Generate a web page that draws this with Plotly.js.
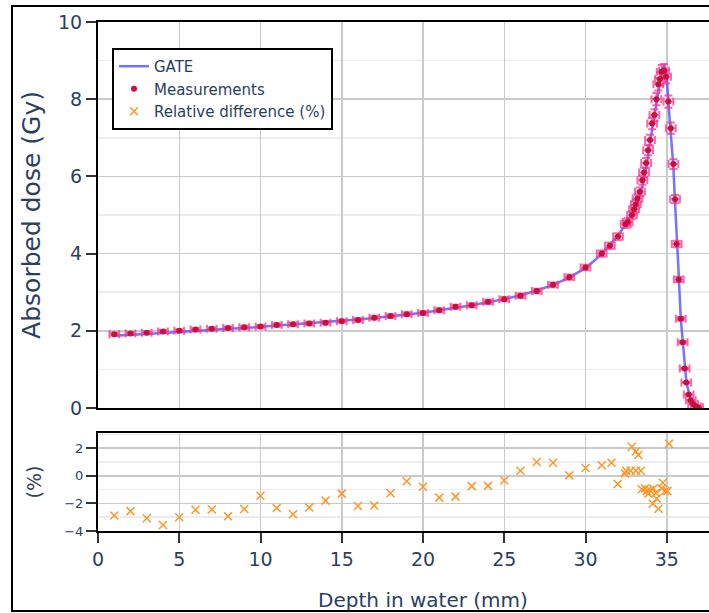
<!DOCTYPE html>
<html>
<head>
<meta charset="utf-8">
<script src="https://cdn.plot.ly/plotly-3.0.1.min.js"></script>
<style>
  html, body { margin: 0; padding: 0; overflow: hidden; background: white; width: 709px; height: 613px; }
  #chart { position: absolute; left: 0; top: 0; }
  #frame { position: absolute; left: 11px; top: 5px; width: 900px; height: 603px; border: 2px solid black; pointer-events: none; z-index: 10; }
</style>
</head>
<body>
<div id="chart"></div>
<div id="frame"></div>
<script>
// GATE simulated depth-dose curve
const gateDepth = [1,2,3,4,5,6,7,8,9,10,11,12,13,14,15,16,17,18,19,20,21,22,23,24,25,26,27,28,29,30,30.5,31,31.5,32,32.5,33,33.25,33.5,33.75,34,34.25,34.5,34.7,34.85,35.0,35.1,35.27,35.4,35.5,35.65,35.72,35.86,36.02,36.18,36.3,36.43,36.6,36.85,37.0];
const gateDose  = [1.87,1.89,1.92,1.94,1.97,2.0,2.02,2.05,2.07,2.1,2.13,2.16,2.19,2.22,2.25,2.29,2.33,2.37,2.42,2.47,2.53,2.59,2.66,2.74,2.82,2.92,3.04,3.19,3.38,3.63,3.8,4.0,4.22,4.47,4.78,5.15,5.4,5.75,6.25,6.95,7.6,8.3,8.75,8.88,8.6,7.9,7.0,6.3,5.4,4.3,3.6,2.33,1.55,0.8,0.5,0.3,0.12,0.02,0.0];

// Measurements
const measDepth = [1,2,3,4,5,6,7,8,9,10,11,12,13,14,15,16,17,18,19,20,21,22,23,24,25,26,27,28,29,30,31,31.5,32,32.47,32.6,32.86,32.99,33.1,33.2,33.35,33.5,33.6,33.73,33.85,33.97,34.1,34.24,34.36,34.48,34.59,34.69,34.83,34.96,35.1,35.25,35.41,35.51,35.61,35.74,35.86,35.98,36.1,36.2,36.35,36.48,36.62,36.8,36.93];
const measDose  = [1.91,1.93,1.95,1.98,2.0,2.03,2.05,2.07,2.09,2.11,2.15,2.17,2.19,2.21,2.25,2.28,2.34,2.38,2.43,2.46,2.53,2.62,2.66,2.75,2.82,2.91,3.03,3.19,3.39,3.64,4.0,4.2,4.44,4.76,4.82,5.0,5.15,5.28,5.43,5.6,5.9,6.1,6.35,6.68,6.94,7.37,7.59,8.0,8.39,8.52,8.71,8.74,8.58,7.94,7.25,6.32,5.41,4.25,3.33,2.31,1.70,1.02,0.66,0.35,0.2,0.1,0.04,0.02];

// Relative difference (%)
const relDepth = [1,2,3,4,5,6,7,8,9,10,11,12,13,14,15,16,17,18,19,20,21,22,23,24,25,26,27,28,29,30,31,31.6,31.98,32.43,32.5,32.78,32.85,33.1,33.1,33.25,33.4,33.46,33.66,33.77,33.87,33.97,34.14,34.18,34.34,34.38,34.49,34.69,34.76,34.9,35.04,35.14];
const relDiff  = [-2.87,-2.56,-3.07,-3.56,-3.0,-2.46,-2.44,-2.93,-2.41,-1.44,-2.34,-2.78,-2.29,-1.8,-1.29,-2.19,-2.15,-1.27,-0.39,-0.8,-1.58,-1.51,-0.75,-0.73,-0.34,0.37,1.0,0.95,0.03,0.56,0.76,0.95,-0.6,0.17,0.37,0.37,2.1,0.37,1.76,1.51,0.37,-0.97,-0.92,-1.1,-1.29,-1.05,-2.02,-0.92,-1.24,-1.65,-2.39,-0.92,-0.51,-1.1,-1.1,2.32];

const xTickVals = [0,5,10,15,20,25,30,35];

const font = {family: 'DejaVu Sans', color: '#2a3f5f'};
const errColor = 'rgba(250,50,140,0.75)';

const traces = [
  {
    x: gateDepth, y: gateDose, type: 'scatter', mode: 'lines', name: 'GATE',
    line: {color: 'rgba(70,70,255,0.75)', width: 2.5},
    xaxis: 'x', yaxis: 'y'
  },
  {
    x: measDepth, y: measDose, type: 'scatter', mode: 'markers', name: 'Measurements',
    marker: {color: '#c8103d', size: 6},
    error_x: {type: 'constant', value: 0.3, width: 4, thickness: 2, color: errColor},
    error_y: {type: 'percent', value: 2, width: 4, thickness: 2, color: errColor},
    xaxis: 'x', yaxis: 'y'
  },
  {
    x: relDepth, y: relDiff, type: 'scatter', mode: 'markers', name: 'Relative difference (%)',
    marker: {symbol: 'x-thin', size: 8, color: 'rgb(255,150,40)', line: {color: 'rgb(255,150,40)', width: 1.5}},
    xaxis: 'x2', yaxis: 'y2'
  }
];

const axisCommon = {
  showline: true, linecolor: 'black', linewidth: 2, mirror: true,
  gridcolor: '#cacaca', gridwidth: 1.5, zeroline: false
};

const layout = {
  width: 900, height: 613,
  margin: {l: 98, r: 152, t: 22, b: 82},
  paper_bgcolor: 'white', plot_bgcolor: 'white',
  font: font,
  showlegend: true,
  legend: {
    x: 0.0215, y: 0.949, xanchor: 'left', yanchor: 'top',
    bgcolor: 'white', bordercolor: 'black', borderwidth: 2,
    font: {family: 'DejaVu Sans', size: 15, color: '#2a3f5f'}
  },
  xaxis: Object.assign({}, axisCommon, {
    domain: [0, 1], range: [0, 40], anchor: 'y', matches: 'x2',
    tickvals: xTickVals, showticklabels: false, ticks: ''
  }),
  yaxis: Object.assign({}, axisCommon, {
    domain: [0.2417, 1], range: [0, 10], anchor: 'x',
    tickvals: [0,2,4,6,8,10], ticks: 'outside', ticklen: 10, tickwidth: 2, tickcolor: '#333',
    tickfont: {size: 19},
    minor: {dtick: 1, showgrid: true, gridcolor: '#ececec', gridwidth: 1.5},
    title: {text: 'Absorbed dose (Gy)', font: {size: 25}, standoff: 10}
  }),
  xaxis2: Object.assign({}, axisCommon, {
    domain: [0, 1], range: [0, 40], anchor: 'y2',
    tickvals: xTickVals, ticks: 'outside', ticklen: 10, tickwidth: 2, tickcolor: '#333',
    tickfont: {size: 19},
    title: {text: 'Depth in water (mm)', font: {size: 20}, standoff: 24}
  }),
  yaxis2: Object.assign({}, axisCommon, {
    domain: [0, 0.1925], range: [-4, 3.1], anchor: 'x2',
    tickvals: [-4,-2,0,2], ticks: 'outside', ticklen: 10, tickwidth: 2, tickcolor: '#333',
    tickfont: {size: 13},
    minor: {dtick: 1, showgrid: true, gridcolor: '#ececec', gridwidth: 1.5},
    title: {text: '(%)', font: {size: 19}, standoff: 18}
  })
};

Plotly.newPlot('chart', traces, layout, {displayModeBar: false, staticPlot: true});
</script>
</body>
</html>
